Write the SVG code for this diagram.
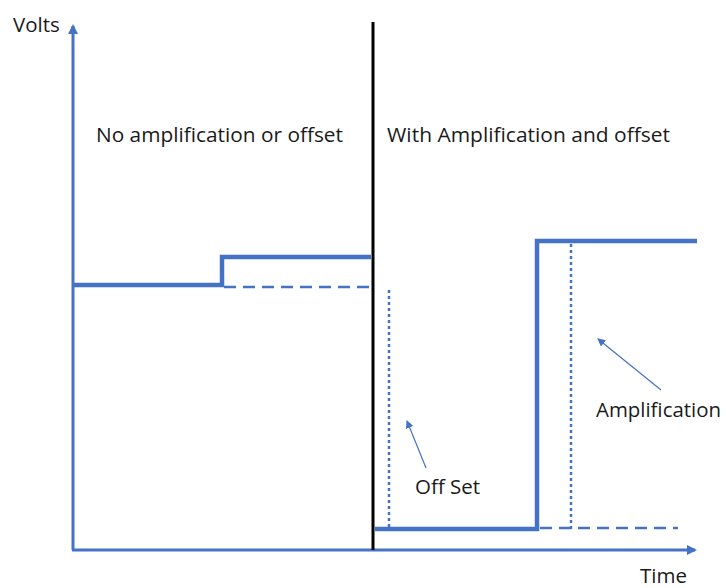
<svg xmlns="http://www.w3.org/2000/svg" width="726" height="588" viewBox="0 0 726 588">
  <style>
    .lbl { font-family: "Open Sans", "Liberation Sans", sans-serif; font-size: 20.5px; fill: #1a1a1a; }
    .axis { stroke: #4472C4; stroke-width: 3; fill: none; }
    .wave { stroke: #4472C4; stroke-width: 4.5; fill: none; stroke-linejoin: miter; }
    .dash { stroke: #4472C4; stroke-width: 2.5; fill: none; stroke-dasharray: 12 7; }
    .dot { stroke: #4472C4; stroke-width: 2.5; fill: none; stroke-dasharray: 3 3; }
    .pointer { stroke: #4472C4; stroke-width: 1.2; fill: none; }
  </style>
  <defs>
    <marker id="axisHead" markerWidth="10" markerHeight="10" refX="8" refY="5" orient="auto" markerUnits="userSpaceOnUse" viewBox="0 0 10 10">
      <path d="M0,0 L10,5 L0,10 Z" fill="#4472C4"/>
    </marker>
    <marker id="smallHead" markerWidth="8" markerHeight="8" refX="7" refY="4" orient="auto" markerUnits="userSpaceOnUse" viewBox="0 0 8 8">
      <path d="M0,0 L8,4 L0,8 Z" fill="#4472C4"/>
    </marker>
  </defs>

  <!-- axes -->
  <g id="axes">
    <line class="axis" x1="73" y1="550" x2="73" y2="26" marker-end="url(#axisHead)"/>
    <line class="axis" x1="72" y1="550" x2="695" y2="550" marker-end="url(#axisHead)"/>
    <text class="lbl" x="13" y="32">Volts</text>
    <text class="lbl" x="640" y="583">Time</text>
  </g>

  <!-- divider between the two cases -->
  <g id="divider">
    <line x1="373" y1="22" x2="373" y2="550" stroke="#000" stroke-width="3"/>
  </g>

  <!-- left: plain signal -->
  <g id="plain-signal">
    <text class="lbl" x="96" y="142" textLength="247" lengthAdjust="spacingAndGlyphs">No amplification or offset</text>
    <polyline class="wave" points="73,285 222,285 222,257 371,257"/>
    <line class="dash" x1="224" y1="287" x2="372" y2="287"/>
  </g>

  <!-- right: amplified and offset signal -->
  <g id="amplified-signal">
    <text class="lbl" x="387" y="142" textLength="283" lengthAdjust="spacingAndGlyphs">With Amplification and offset</text>
    <polyline class="wave" points="375,529 537,529 537,241 697,241"/>
    <line class="dash" x1="540" y1="528" x2="678" y2="528"/>
  </g>

  <!-- offset marker -->
  <g id="offset">
    <line class="dot" x1="389" y1="290" x2="389" y2="527"/>
    <text class="lbl" x="415" y="494">Off Set</text>
  </g>

  <!-- amplification marker -->
  <g id="amplification">
    <line class="dot" x1="571" y1="244" x2="571" y2="529"/>
    <text class="lbl" x="596" y="417" textLength="125" lengthAdjust="spacingAndGlyphs">Amplification</text>
  </g>

  <!-- pointers -->
  <g id="connectors">
    <line class="pointer" x1="426" y1="468" x2="407" y2="421" marker-end="url(#smallHead)"/>
    <line class="pointer" x1="661" y1="390" x2="598" y2="339" marker-end="url(#smallHead)"/>
  </g>
</svg>
